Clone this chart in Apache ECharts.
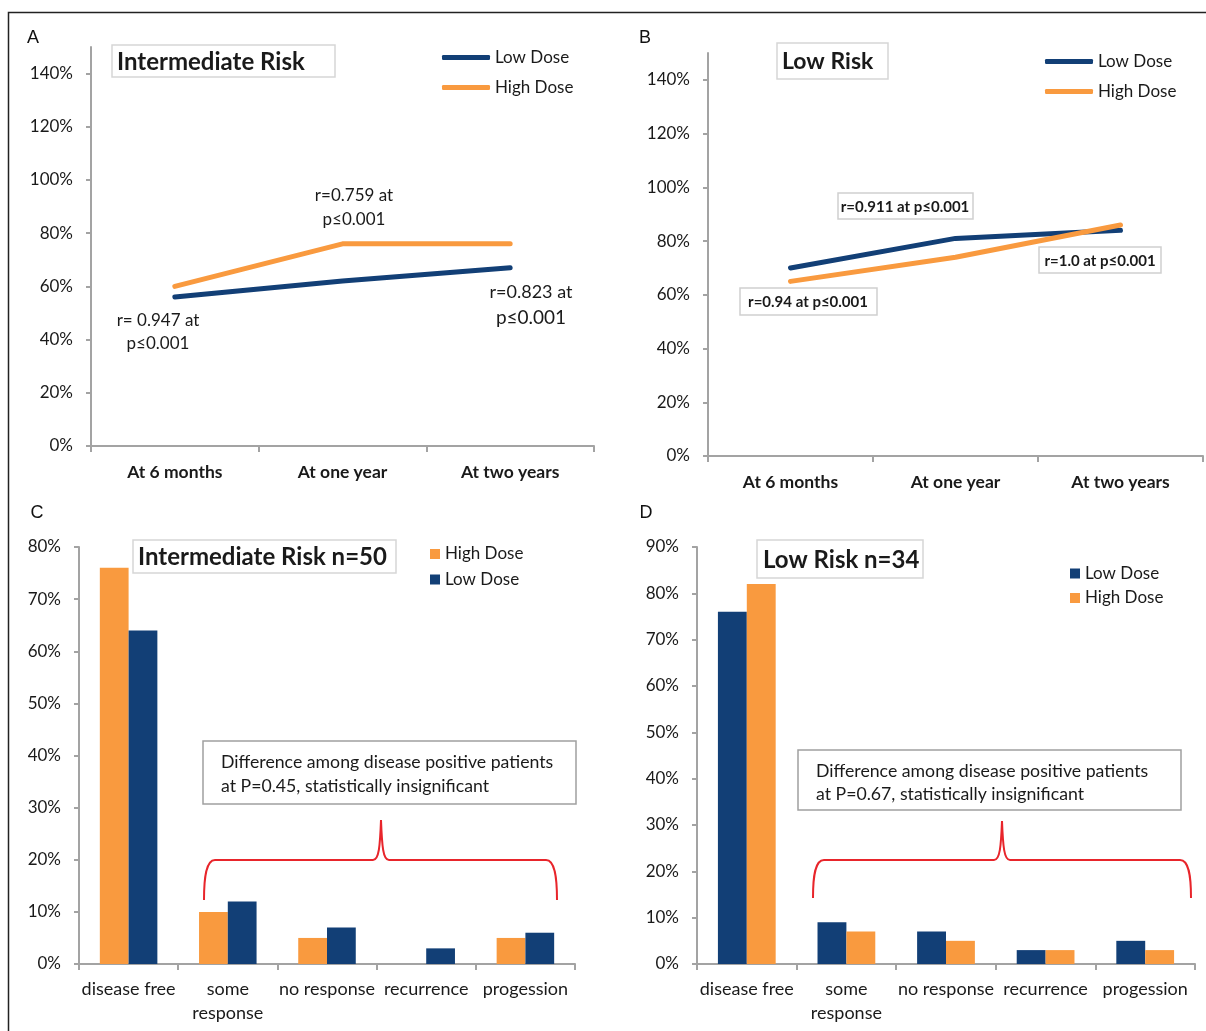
<!DOCTYPE html>
<html><head><meta charset="utf-8">
<script src="https://cdn.jsdelivr.net/npm/echarts@6/dist/echarts.min.js"></script>
<style>html,body{margin:0;padding:0;background:#fff}#c{width:1206px;height:1031px}</style>
</head><body><div id="c"></div>
<script>
// ---- data ----
const timeCats = ['At 6 months', 'At one year', 'At two years'];
const aLow = [56, 62, 67];
const aHigh = [60, 76, 76];
const bLow = [70, 81, 84];
const bHigh = [65, 74, 86];
const outcomeCats = ['disease free', 'some\nresponse', 'no response', 'recurrence', 'progession'];
const cHigh = [76, 10, 5, 0, 5];
const cLow = [64, 12, 7, 3, 6];
const dLow = [76, 9, 7, 3, 5];
const dHigh = [82, 7, 5, 3, 3];
const ticksAB = [0, 20, 40, 60, 80, 100, 120, 140];
const ticksC = [0, 10, 20, 30, 40, 50, 60, 70, 80];
const ticksD = [0, 10, 20, 30, 40, 50, 60, 70, 80, 90];

// ---- style ----
const BLUE = '#123f76', ORANGE = '#f99a3f', AXIS = '#a3a3a3', TXT = '#1a1a1a', RED = '#e8252b';
const FONT = 'Lato';

const chart = echarts.init(document.getElementById('c'));

function xAx(gi, data, bold, margin, size) {
  return {
    gridIndex: gi, type: 'category', data: data,
    axisLine: {show: true, lineStyle: {color: AXIS, width: 2}},
    axisTick: {show: true, length: 6, lineStyle: {color: AXIS, width: 2}},
    axisLabel: {interval: 0, margin: margin, color: TXT, fontFamily: FONT, fontSize: size,
      fontWeight: bold ? 'bold' : 'normal', lineHeight: 24},
    splitLine: {show: false}
  };
}
function yAx(gi, max, interval, ticks) {
  return {
    gridIndex: gi, type: 'value', min: 0, max: max, interval: interval,
    axisLine: {show: true, lineStyle: {color: AXIS, width: 2}},
    axisTick: {show: true, length: 5, lineStyle: {color: AXIS, width: 2}, customValues: ticks},
    axisLabel: {margin: 18, color: TXT, fontFamily: FONT, fontSize: 17,
      formatter: '{value}%', customValues: ticks},
    splitLine: {show: false}
  };
}
function lineS(name, gi, data, color) {
  return {name: name, type: 'line', xAxisIndex: gi, yAxisIndex: gi, data: data,
    symbol: 'none', smooth: false, silent: true,
    lineStyle: {color: color, width: 5, cap: 'round'}, itemStyle: {color: color}};
}
function barS(name, gi, data, color) {
  return {name: name, type: 'bar', xAxisIndex: gi, yAxisIndex: gi, data: data,
    barGap: '0%', barCategoryGap: '42%', silent: true, itemStyle: {color: color}};
}
function legendL(left, top, gap, names, icon, w, h) {
  return {left: left, top: top, orient: 'vertical', padding: 0, itemGap: gap,
    itemWidth: w, itemHeight: h, selectedMode: false,
    data: names.map(n => ({name: n, icon: icon})),
    textStyle: {fontSize: 17, lineHeight: 16, color: TXT, fontFamily: FONT}};
}

function box(x, y, w, h, stroke) {
  return {type: 'rect', shape: {x: x, y: y, width: w, height: h},
    style: {fill: '#fff', stroke: stroke, lineWidth: 1.5}, z: 10};
}
function txt(x, y, s, size, weight, align) {
  return {type: 'text', x: x, y: y, z: 11,
    style: {text: s, fill: TXT, font: (weight || 'normal') + ' ' + size + 'px ' + FONT,
      textAlign: align || 'left', textVerticalAlign: 'middle'}};
}
function letter(x, y, s) {
  return {type: 'text', x: x, y: y, z: 11,
    style: {text: s, fill: '#111', font: 'normal 18px "Liberation Sans"',
      textAlign: 'center', textVerticalAlign: 'middle'}};
}
// curly brace built from curve + line pieces
function brace(xL, xP, xR, yB, yH, yP) {
  const st = {fill: null, stroke: RED, lineWidth: 2};
  const cv = (x1, y1, x2, y2, c1x, c1y, c2x, c2y) => ({type: 'bezierCurve', z: 11, style: st,
    shape: {x1: x1, y1: y1, x2: x2, y2: y2, cpx1: c1x, cpy1: c1y, cpx2: c2x, cpy2: c2y}});
  const ln = (x1, y1, x2, y2) => ({type: 'line', z: 11, style: st, shape: {x1: x1, y1: y1, x2: x2, y2: y2}});
  return [
    cv(xL, yB, xL + 11, yH, xL, yB - 22, xL + 2, yH),
    ln(xL + 11, yH, xP - 8, yH),
    cv(xP - 8, yH, xP, yP, xP - 2, yH, xP - 1, yH - 14),
    cv(xP, yP, xP + 8, yH, xP + 1, yH - 14, xP + 2, yH),
    ln(xP + 8, yH, xR - 11, yH),
    cv(xR - 11, yH, xR, yB, xR - 2, yH, xR, yB - 22)
  ];
}

const option = {
  backgroundColor: '#fff',
  animation: false,
  grid: [
    {left: 91, top: 47, width: 503, height: 399},
    {left: 708, top: 53, width: 495, height: 403},
    {left: 79, top: 547, width: 496, height: 417},
    {left: 697, top: 547, width: 498, height: 417}
  ],
  xAxis: [xAx(0, timeCats, true, 14, 17.5), xAx(1, timeCats, true, 14, 17.5),
          xAx(2, outcomeCats, false, 13, 18), xAx(3, outcomeCats, false, 13, 18)],
  yAxis: [yAx(0, 150, 20, ticksAB), yAx(1, 150, 20, ticksAB),
          yAx(2, 80, 10, ticksC), yAx(3, 90, 10, ticksD)],
  legend: [
    legendL(442, 49, 13, ['Low Dose', 'High Dose'], 'roundRect', 48, 5),
    legendL(1045, 53, 13, ['Low Dose', 'High Dose'], 'roundRect', 48, 5),
    legendL(430, 545.5, 8.5, ['High Dose', 'Low Dose'], 'rect', 10, 10),
    legendL(1070, 565, 7.5, ['Low Dose', 'High Dose'], 'rect', 10, 10)
  ],
  series: [
    lineS('Low Dose', 0, aLow, BLUE), lineS('High Dose', 0, aHigh, ORANGE),
    lineS('Low Dose', 1, bLow, BLUE), lineS('High Dose', 1, bHigh, ORANGE),
    barS('High Dose', 2, cHigh, ORANGE), barS('Low Dose', 2, cLow, BLUE),
    barS('Low Dose', 3, dLow, BLUE), barS('High Dose', 3, dHigh, ORANGE)
  ],
  graphic: [
    {type: 'rect', shape: {x: 8.5, y: 12.5, width: 1300, height: 1100},
      style: {fill: null, stroke: '#222', lineWidth: 1.5}, z: 0},
    letter(33, 38, 'A'), letter(645, 38, 'B'), letter(37, 513, 'C'), letter(646, 513, 'D'),
    // panel A
    box(112, 45, 223, 32, '#d6d6d6'), txt(117, 62, 'Intermediate Risk', 24, 'bold'),
    txt(354, 196, 'r=0.759 at', 17, 'normal', 'center'), txt(354, 220, 'p≤0.001', 17, 'normal', 'center'),
    txt(158, 321, 'r= 0.947 at', 17, 'normal', 'center'), txt(158, 344, 'p≤0.001', 17, 'normal', 'center'),
    txt(531, 292, 'r=0.823 at', 18, 'normal', 'center'), txt(531, 318, 'p≤0.001', 19, 'normal', 'center'),
    // panel B
    box(777, 43, 111, 36, '#d6d6d6'), txt(782, 62, 'Low Risk', 23, 'bold'),
    box(838, 193, 135, 26, '#d0d0d0'), txt(905, 207, 'r=0.911 at p≤0.001', 15, 'bold', 'center'),
    box(1039, 247, 122, 26, '#d0d0d0'), txt(1100, 261, 'r=1.0 at p≤0.001', 15, 'bold', 'center'),
    box(740, 288, 137, 27, '#d0d0d0'), txt(808, 302, 'r=0.94 at p≤0.001', 15, 'bold', 'center'),
    // panel C
    box(133, 540, 263, 33, '#d6d6d6'), txt(138, 557, 'Intermediate Risk n=50', 24, 'bold'),
    box(203, 741, 373, 63, '#a0a0a0'),
    txt(221, 762, 'Difference among disease positive patients', 17.7),
    txt(221, 786, 'at P=0.45, statistically insignificant', 17.7),
    ...brace(204, 381, 557, 900, 860, 820),
    // panel D
    box(757, 540, 166, 38, '#d6d6d6'), txt(763, 560, 'Low Risk n=34', 24, 'bold'),
    box(798, 750, 383, 60, '#a0a0a0'),
    txt(816, 771, 'Difference among disease positive patients', 17.7),
    txt(816, 794, 'at P=0.67, statistically insignificant', 17.7),
    ...brace(813, 1002, 1191, 898, 860, 821)
  ]
};
chart.setOption(option);
</script></body></html>
